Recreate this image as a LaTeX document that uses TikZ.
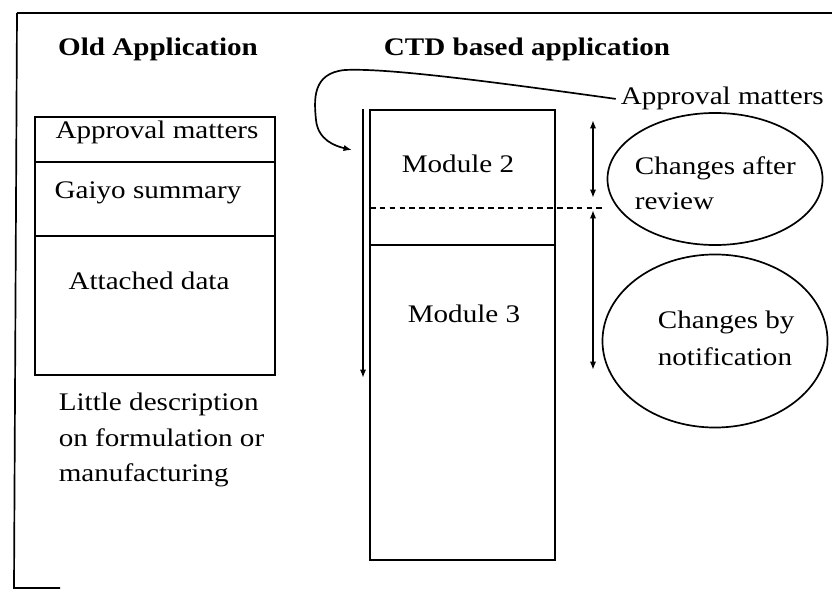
\documentclass[tikz,border=0pt]{standalone}
\usepackage{fontspec}
\setmainfont{Liberation Serif}[FakeStretch=1.15]
\usetikzlibrary{shapes.geometric,arrows.meta}

\begin{document}
\begin{tikzpicture}[x=0.025cm, y=-0.025cm, line width=1.2pt,
  >={Latex[length=6pt,width=4.5pt]},
  lbl/.style={inner sep=0pt, font=\fontsize{18}{25}\selectfont},
  heading/.style={inner sep=0pt, font=\fontsize{18}{25}\selectfont\bfseries},
  bubble/.style={ellipse, draw, inner sep=0pt}]

\useasboundingbox (0,0) rectangle (832,596);

% frame
\draw (17,13) -- (832,13);
\draw (17,13) -- (14,588) -- (60,588);

% headings
\node[heading, anchor=base] (oldhead) at (158,56) {Old Application};
\node[heading, anchor=base west] (ctdhead) at (383,56) {CTD based application};

% old application
\draw (35,117) rectangle (275,375);
\draw (35,162) -- (275,162);
\draw (35,236) -- (275,236);
\node[lbl, anchor=base] (oldappr) at (157,139) {Approval matters};
\node[lbl, anchor=base] (oldgaiyo) at (148,199) {Gaiyo summary};
\node[lbl, anchor=base] (oldattach) at (149,289) {Attached data};
\node[lbl, anchor=north west, align=left] (olddesc) at (58,392.5)
  {Little description\\on formulation or\\manufacturing};

% CTD based application
\draw (370,110) rectangle (555,560);
\draw (370,245) -- (555,245);
\draw[dash pattern=on 4pt off 3pt] (370,208) -- (602,208);
\node[lbl, anchor=base] (mod2) at (458,173) {Module 2};
\node[lbl, anchor=base] (mod3) at (464,322) {Module 3};

% approval matters pointer
\node[lbl, anchor=base west] (apprlbl) at (620,105) {Approval matters};
\coordinate (m2tip) at (352,150);
\draw[->] ([xshift=-3pt]apprlbl.west) .. controls (480,80) and (385,68) .. (345,70)
  .. controls (312,73) and (314,100) .. (316,120)
  .. controls (318,140) and (335,146) .. (m2tip);

% scope arrows
\coordinate (ctdtop) at (363,109);
\coordinate (ctdbot) at (363,378);
\draw[->] (ctdtop) -- (ctdbot);

\coordinate (revtop) at (593,120);
\coordinate (revbot) at (593,198);
\coordinate (nottop) at (593,210);
\coordinate (notbot) at (593,370);
\draw[<->] (revtop) -- (revbot);
\draw[<->] (nottop) -- (notbot);

% changes
\node[bubble, minimum width=5.375cm, minimum height=3.3cm] (revell) at (715,179) {};
\node[lbl, anchor=north west, align=left] (revtxt) at (634,155.5)
  {Changes after\\review};
\node[bubble, minimum width=5.625cm, minimum height=4.325cm] (notell) at (715,341) {};
\node[lbl, anchor=north west, align=left, font=\fontsize{18}{26.2}\selectfont] (nottxt) at (657,310.5)
  {Changes by\\notification};

\end{tikzpicture}
\end{document}
